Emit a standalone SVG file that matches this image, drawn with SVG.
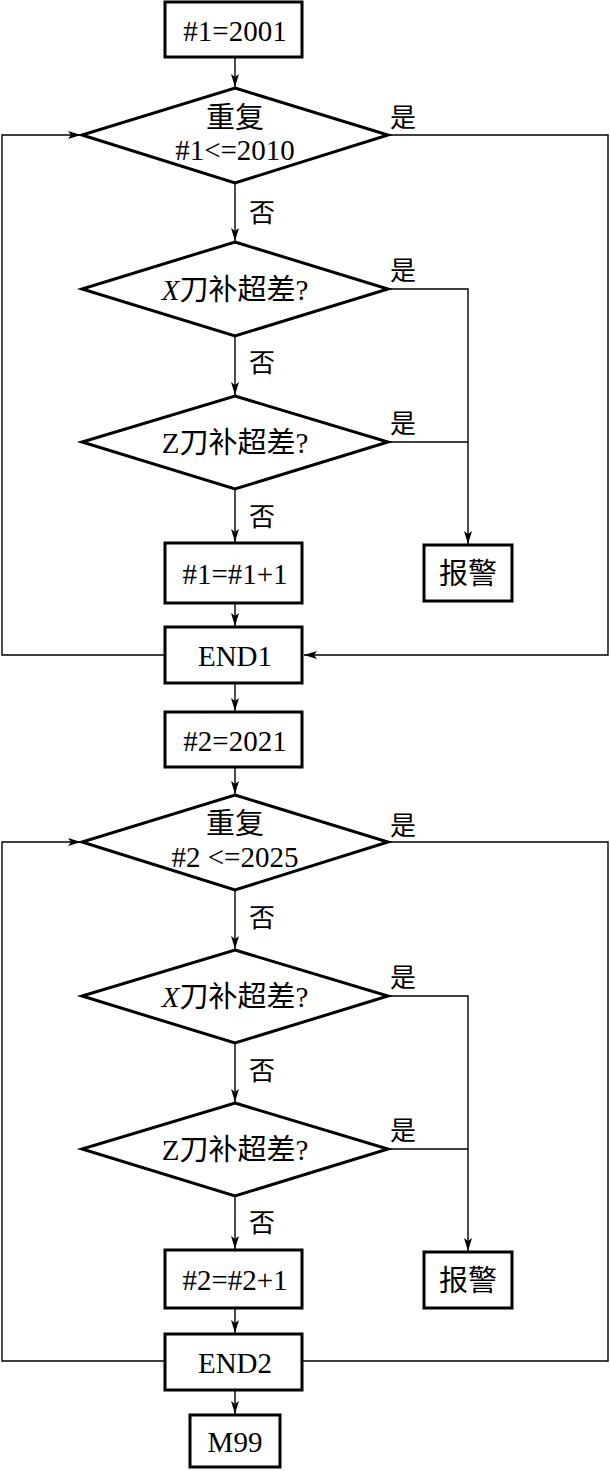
<svg xmlns="http://www.w3.org/2000/svg" width="610" height="1471" viewBox="0 0 610 1471">
<style>
.n{fill:#fff;stroke:#000;stroke-width:3}
.c{fill:none;stroke:#000;stroke-width:1.4}
.t{font-family:"Liberation Serif","Noto Sans CJK SC",serif;font-size:29px;fill:#000;text-anchor:middle}
.l{font-family:"Noto Sans CJK SC",serif;font-size:26px;fill:#000}
.i{font-style:italic}
</style>
<defs>
<marker id="a" markerWidth="14" markerHeight="8" refX="13" refY="4" orient="auto" markerUnits="userSpaceOnUse">
<path d="M0,0 L13,4 L0,8 L3,4 z" fill="#000"/>
</marker>
</defs>
<rect width="610" height="1471" fill="#fff"/>
<g id="connectors">
<line class="c" x1="235" y1="57" x2="235" y2="87" marker-end="url(#a)"/>
<polyline class="c" points="165,655 2,655 2,135 81,135" marker-end="url(#a)"/>
<polyline class="c" points="388,135 608,135 608,655 304,655" marker-end="url(#a)"/>
<line class="c" x1="235" y1="183" x2="235" y2="241" marker-end="url(#a)"/>
<polyline class="c" points="388,289 468,289 468,544" marker-end="url(#a)"/>
<line class="c" x1="388" y1="442" x2="468" y2="442"/>
<line class="c" x1="235" y1="336" x2="235" y2="395" marker-end="url(#a)"/>
<line class="c" x1="235" y1="489" x2="235" y2="542" marker-end="url(#a)"/>
<line class="c" x1="235" y1="603" x2="235" y2="626" marker-end="url(#a)"/>
<line class="c" x1="235" y1="683" x2="235" y2="711" marker-end="url(#a)"/>
<line class="c" x1="235" y1="767" x2="235" y2="794" marker-end="url(#a)"/>
<polyline class="c" points="165,1361 2,1361 2,842 81,842" marker-end="url(#a)"/>
<polyline class="c" points="388,842 608,842 608,1361 303,1361"/>
<line class="c" x1="235" y1="890" x2="235" y2="949" marker-end="url(#a)"/>
<polyline class="c" points="388,996 468,996 468,1251" marker-end="url(#a)"/>
<line class="c" x1="388" y1="1149" x2="468" y2="1149"/>
<line class="c" x1="235" y1="1043" x2="235" y2="1102" marker-end="url(#a)"/>
<line class="c" x1="235" y1="1196" x2="235" y2="1249" marker-end="url(#a)"/>
<line class="c" x1="235" y1="1308" x2="235" y2="1333" marker-end="url(#a)"/>
<line class="c" x1="235" y1="1390" x2="235" y2="1414" marker-end="url(#a)"/>
</g>
<g id="labels">
<text class="l" x="390" y="127">是</text>
<text class="l" x="249" y="222">否</text>
<text class="l" x="390" y="280">是</text>
<text class="l" x="249" y="372">否</text>
<text class="l" x="390" y="433">是</text>
<text class="l" x="249" y="526">否</text>
<text class="l" x="390" y="835">是</text>
<text class="l" x="249" y="927">否</text>
<text class="l" x="390" y="987">是</text>
<text class="l" x="249" y="1080">否</text>
<text class="l" x="390" y="1140">是</text>
<text class="l" x="249" y="1232">否</text>
</g>
<g id="n1"><rect class="n" x="165" y="2" width="137" height="55"/><text class="t" x="235" y="41">#1=2001</text></g>
<g id="d1"><polygon class="n" points="235,88 388,135 235,183 82,135"/><text class="t" x="235" y="128">重复</text><text class="t" x="235" y="160">#1&lt;=2010</text></g>
<g id="d2"><polygon class="n" points="235,242 388,289 235,336 82,289"/><text class="t" x="235" y="300"><tspan class="i">X</tspan>刀补超差?</text></g>
<g id="d3"><polygon class="n" points="235,396 388,442 235,489 82,442"/><text class="t" x="235" y="453">Z刀补超差?</text></g>
<g id="n2"><rect class="n" x="165" y="543" width="137" height="60"/><text class="t" x="235" y="584">#1=#1+1</text></g>
<g id="alarm1"><rect class="n" x="424" y="545" width="88" height="56"/><text class="t" x="468" y="584">报警</text></g>
<g id="end1"><rect class="n" x="165" y="627" width="137" height="56"/><text class="t" x="235" y="666">END1</text></g>
<g id="n3"><rect class="n" x="165" y="712" width="137" height="55"/><text class="t" x="235" y="751">#2=2021</text></g>
<g id="d4"><polygon class="n" points="235,795 388,842 235,890 82,842"/><text class="t" x="235" y="834">重复</text><text class="t" x="235" y="867">#2 &lt;=2025</text></g>
<g id="d5"><polygon class="n" points="235,950 388,996 235,1043 82,996"/><text class="t" x="235" y="1007"><tspan class="i">X</tspan>刀补超差?</text></g>
<g id="d6"><polygon class="n" points="235,1103 388,1149 235,1196 82,1149"/><text class="t" x="235" y="1160">Z刀补超差?</text></g>
<g id="n4"><rect class="n" x="165" y="1250" width="137" height="58"/><text class="t" x="235" y="1290">#2=#2+1</text></g>
<g id="alarm2"><rect class="n" x="424" y="1252" width="88" height="56"/><text class="t" x="468" y="1291">报警</text></g>
<g id="end2"><rect class="n" x="165" y="1334" width="137" height="56"/><text class="t" x="235" y="1373">END2</text></g>
<g id="m99"><rect class="n" x="190" y="1415" width="90" height="52"/><text class="t" x="235" y="1452">M99</text></g>
</svg>
